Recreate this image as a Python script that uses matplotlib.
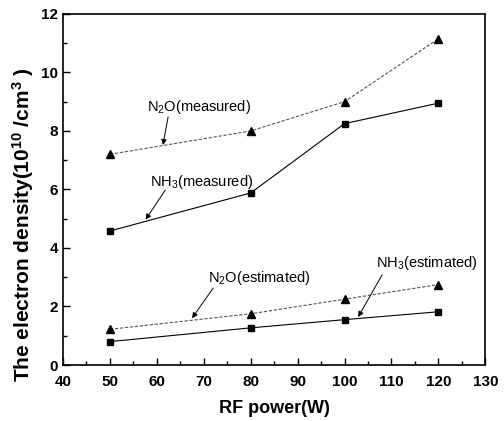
import numpy as np
import matplotlib
matplotlib.use('Agg')
import matplotlib.pyplot as plt
from matplotlib.ticker import MultipleLocator

plt.rcParams['font.family'] = ['Liberation Sans', 'DejaVu Sans']
plt.rcParams['mathtext.default'] = 'regular'

# data
power = [50, 80, 100, 120]
n2o_measured = [7.2, 8.0, 9.0, 11.15]
nh3_measured = [4.58, 5.88, 8.25, 8.95]
n2o_estimated = [1.22, 1.75, 2.25, 2.75]
nh3_estimated = [0.8, 1.27, 1.55, 1.82]

fig = plt.figure(figsize=(5.04, 4.21), dpi=100)
ax = fig.add_axes([0.125, 0.133, 0.838, 0.834])

ax.plot(power, n2o_measured, color='#555555', lw=0.8, ls=(0, (3, 1.5)),
        marker='^', ms=6, mfc='black', mec='black')
ax.plot(power, nh3_measured, color='black', lw=0.8, ls='-',
        marker='s', ms=5, mfc='black', mec='black')
ax.plot(power, n2o_estimated, color='#555555', lw=0.8, ls=(0, (3, 1.5)),
        marker='^', ms=6, mfc='black', mec='black')
ax.plot(power, nh3_estimated, color='black', lw=0.8, ls='-',
        marker='s', ms=5, mfc='black', mec='black')

# labels, then arrows from just under each label to its line
arrow = dict(arrowstyle='-|>', color='black', lw=0.7, mutation_scale=8,
             shrinkA=0, shrinkB=0)
ax.text(57.9, 8.82, 'N$_2$O(measured)', fontsize=10.5, va='center')
ax.annotate('', xy=(61.3, 7.52), xytext=(62.4, 8.48), arrowprops=arrow)
ax.text(58.6, 6.26, 'NH$_3$(measured)', fontsize=10.5, va='center')
ax.annotate('', xy=(57.6, 4.97), xytext=(61.8, 5.98), arrowprops=arrow)
ax.text(70.9, 2.97, 'N$_2$O(estimated)', fontsize=10.5, va='center')
ax.annotate('', xy=(67.5, 1.6), xytext=(72.0, 2.63), arrowprops=arrow)
ax.text(106.6, 3.49, 'NH$_3$(estimated)', fontsize=10.5, va='center')
ax.annotate('', xy=(102.9, 1.64), xytext=(108.0, 3.08), arrowprops=arrow)

ax.set_xlim(40, 130)
ax.set_ylim(0, 12)
ax.xaxis.set_major_locator(MultipleLocator(10))
ax.xaxis.set_minor_locator(MultipleLocator(5))
ax.yaxis.set_major_locator(MultipleLocator(2))
ax.yaxis.set_minor_locator(MultipleLocator(1))
ax.tick_params(which='both', direction='in', top=False, right=False,
               labelsize=11, width=1)
ax.tick_params(which='major', length=5)
ax.tick_params(which='minor', length=3)
ax.tick_params(axis='x', which='major', pad=7)
for lab in ax.get_xticklabels() + ax.get_yticklabels():
    lab.set_fontweight('bold')
for sp in ax.spines.values():
    sp.set_linewidth(1.2)

ax.set_xlabel('RF power(W)', fontsize=13, fontweight='bold', labelpad=8)
ax.set_ylabel('The electron density(10$^{10}$ /cm$^{3}$ )', fontsize=15,
              fontweight='bold')
ax.yaxis.set_label_coords(-0.065, 0.40)

fig.savefig('out.png', dpi=100)
